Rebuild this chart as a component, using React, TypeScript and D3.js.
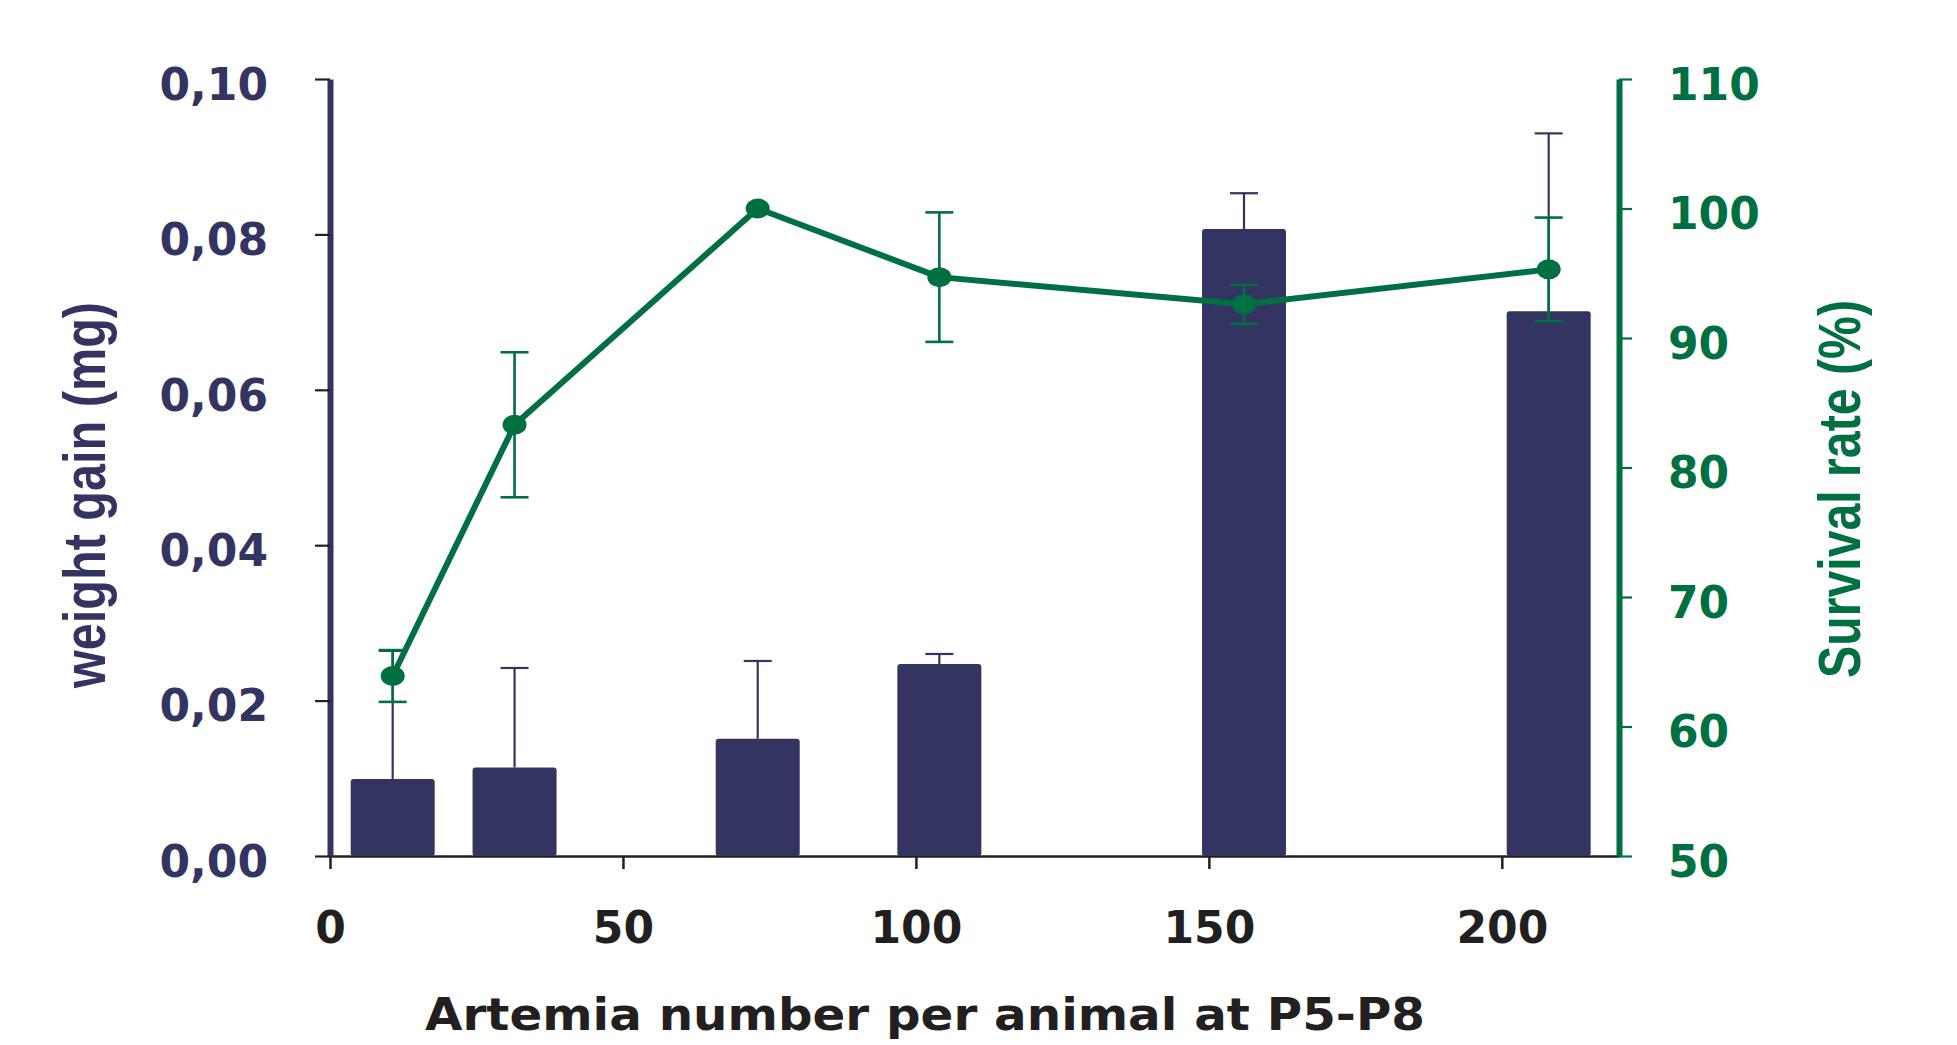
import React, { useEffect, useRef } from "react";
import * as d3 from "d3";

// artemia per animal (x) for each group
const artemia = [10.7, 31.5, 73, 104, 156, 208];
// weight gain (mg), bars + upper error
const weightGain = [0.0099, 0.0114, 0.0151, 0.0247, 0.0807, 0.0701];
const weightErr = [0.0165, 0.0128, 0.01, 0.0013, 0.0046, 0.0229];
// survival rate (%), line + error
const survival = [63.9, 83.3, 100, 94.7, 92.6, 95.3];
const survivalErr = [2.0, 5.6, 0, 5.0, 1.5, 4.0];

const xTicks = [0, 50, 100, 150, 200];
const weightTicks = [0, 0.02, 0.04, 0.06, 0.08, 0.1];
const survivalTicks = [50, 60, 70, 80, 90, 100, 110];

const NAVY = "#343462";
const GREEN = "#006f41";
const BLACK = "#231f20";
const TICK_FONT = "'DejaVu Sans', sans-serif";
const TITLE_FONT = "'Liberation Sans', Arial, sans-serif";

const commaFmt = d3.formatLocale({
  decimal: ",",
  thousands: ".",
  grouping: [3],
  currency: ["", ""],
}).format(".2f");

const App = () => {
  const svgRef = useRef<SVGSVGElement>(null);

  useEffect(() => {
    document.body.style.margin = "0";
    const svg = d3.select(svgRef.current);
    svg.selectAll("*").remove();

    const left = 330;
    const right = 1619;
    const bottom = 856;
    const top = 79;

    const x = d3.scaleLinear().domain([0, 220]).range([left, right]);
    const yW = d3.scaleLinear().domain([0, 0.1]).range([bottom, top]);
    const yS = d3.scaleLinear().domain([50, 110]).range([bottom, top]);

    const data = artemia.map((a, i) => ({
      a,
      w: weightGain[i],
      we: weightErr[i],
      s: survival[i],
      se: survivalErr[i],
    }));

    // x axis
    const xAxis = d3.axisBottom(x).tickValues(xTicks).tickSize(13).tickSizeOuter(0).tickPadding(43);
    const gx = svg.append("g").attr("transform", `translate(0, ${bottom})`).call(xAxis);
    gx.select(".domain").attr("stroke", BLACK).attr("stroke-width", 2.5);
    gx.selectAll(".tick line").attr("stroke", BLACK).attr("stroke-width", 2.5);
    gx.selectAll(".tick text")
      .attr("fill", BLACK)
      .attr("font-family", TICK_FONT)
      .attr("font-weight", "bold")
      .attr("font-size", 44);

    // bars
    const barW = 84;
    svg
      .append("g")
      .selectAll("rect")
      .data(data)
      .join("rect")
      .attr("x", (d) => x(d.a) - barW / 2)
      .attr("width", barW)
      .attr("y", (d) => yW(d.w))
      .attr("height", (d) => yW(0) - yW(d.w))
      .attr("rx", 3)
      .attr("fill", NAVY);

    // bar error bars (upper only)
    const capW = 28;
    const be = svg.append("g").attr("stroke", NAVY).attr("stroke-width", 2.2);
    be.selectAll("line.v")
      .data(data)
      .join("line")
      .attr("class", "v")
      .attr("x1", (d) => x(d.a))
      .attr("x2", (d) => x(d.a))
      .attr("y1", (d) => yW(d.w))
      .attr("y2", (d) => yW(d.w + d.we));
    be.selectAll("line.c")
      .data(data)
      .join("line")
      .attr("class", "c")
      .attr("x1", (d) => x(d.a) - capW / 2)
      .attr("x2", (d) => x(d.a) + capW / 2)
      .attr("y1", (d) => yW(d.w + d.we))
      .attr("y2", (d) => yW(d.w + d.we));

    // left axis
    const yAxisL = d3.axisLeft(yW).tickValues(weightTicks).tickFormat(commaFmt).tickSize(15).tickSizeOuter(0).tickPadding(47);
    const gl = svg.append("g").attr("transform", `translate(${left}, 0)`).call(yAxisL);
    gl.select(".domain").attr("stroke", NAVY).attr("stroke-width", 6);
    gl.selectAll(".tick line").attr("stroke", BLACK).attr("stroke-width", 2.2);
    gl.selectAll(".tick text")
      .attr("fill", NAVY)
      .attr("font-family", TICK_FONT)
      .attr("font-weight", "bold")
      .attr("font-size", 44)
      .attr("dy", "0.46em");

    // right axis
    const yAxisR = d3.axisRight(yS).tickValues(survivalTicks).tickSize(13).tickSizeOuter(0).tickPadding(36);
    const gr = svg.append("g").attr("transform", `translate(${right}, 0)`).call(yAxisR);
    gr.select(".domain").attr("stroke", GREEN).attr("stroke-width", 6);
    gr.selectAll(".tick line").attr("stroke", GREEN).attr("stroke-width", 2.2);
    gr.selectAll(".tick text")
      .attr("fill", GREEN)
      .attr("font-family", TICK_FONT)
      .attr("font-weight", "bold")
      .attr("font-size", 44)
      .attr("dy", "0.46em");

    // survival line
    const line = d3
      .line<(typeof data)[number]>()
      .x((d) => x(d.a))
      .y((d) => yS(d.s));
    svg
      .append("path")
      .datum(data)
      .attr("d", line)
      .attr("fill", "none")
      .attr("stroke", GREEN)
      .attr("stroke-width", 6)
      .attr("stroke-linejoin", "round");

    // survival error bars
    const errData = data.filter((d) => d.se > 0);
    const se = svg.append("g").attr("stroke", GREEN).attr("stroke-width", 2.6);
    se.selectAll("line.v")
      .data(errData)
      .join("line")
      .attr("class", "v")
      .attr("x1", (d) => x(d.a))
      .attr("x2", (d) => x(d.a))
      .attr("y1", (d) => yS(d.s - d.se))
      .attr("y2", (d) => yS(d.s + d.se));
    [1, -1].forEach((sign) => {
      se.selectAll(`line.c${sign}`)
        .data(errData)
        .join("line")
        .attr("class", `c${sign}`)
        .attr("x1", (d) => x(d.a) - capW / 2)
        .attr("x2", (d) => x(d.a) + capW / 2)
        .attr("y1", (d) => yS(d.s + sign * d.se))
        .attr("y2", (d) => yS(d.s + sign * d.se));
    });

    // markers
    svg
      .append("g")
      .selectAll("ellipse")
      .data(data)
      .join("ellipse")
      .attr("cx", (d) => x(d.a))
      .attr("cy", (d) => yS(d.s))
      .attr("rx", 12)
      .attr("ry", 10)
      .attr("fill", GREEN);

    // titles
    svg
      .append("text")
      .attr("x", 925)
      .attr("y", 1030)
      .attr("text-anchor", "middle")
      .attr("font-family", TICK_FONT)
      .attr("font-weight", "bold")
      .attr("font-size", 44)
      .attr("fill", BLACK)
      .attr("textLength", 1000)
      .attr("lengthAdjust", "spacingAndGlyphs")
      .text("Artemia number per animal at P5-P8");

    svg
      .append("text")
      .attr("transform", "translate(105, 495) rotate(-90)")
      .attr("text-anchor", "middle")
      .attr("font-family", TITLE_FONT)
      .attr("font-weight", "bold")
      .attr("font-size", 59)
      .attr("fill", NAVY)
      .attr("textLength", 386)
      .attr("lengthAdjust", "spacingAndGlyphs")
      .text("weight gain (mg)");

    svg
      .append("text")
      .attr("transform", "translate(1860, 489) rotate(-90)")
      .attr("text-anchor", "middle")
      .attr("font-family", TITLE_FONT)
      .attr("font-weight", "bold")
      .attr("font-size", 60)
      .attr("fill", GREEN)
      .attr("textLength", 378)
      .attr("lengthAdjust", "spacingAndGlyphs")
      .text("Survival rate (%)");
  }, []);

  return <svg ref={svgRef} width={1957} height={1045} style={{ display: "block", background: "#fff" }} />;
};

export default App;
